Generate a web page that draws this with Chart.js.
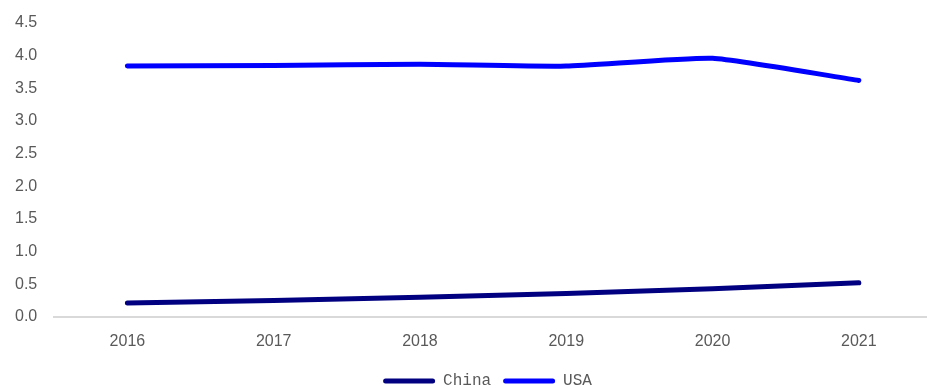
<!DOCTYPE html>
<html lang="en">
<head>
    <meta charset="UTF-8">
    <title>China vs USA</title>
    <script src="https://cdn.jsdelivr.net/npm/chart.js"></script>
    <style>
        body {
            margin: 0;
            padding: 0;
            background-color: #ffffff;
        }

        .chart-box {
            width: 927px;
            height: 388px;
        }
    </style>
</head>
<body>
<div class="chart-box">
    <canvas id="lineChart"></canvas>
</div>

<script>
    // Data
    const years = ['2016', '2017', '2018', '2019', '2020', '2021'];
    const chinaValues = [0.21, 0.25, 0.30, 0.355, 0.43, 0.52];
    const usaValues = [3.84, 3.85, 3.87, 3.84, 3.96, 3.62];

    const tickColor = '#595959';
    const tickFont = { family: '"Liberation Sans", Arial, sans-serif', size: 16 };

    // x axis runs a little past the right edge, legend shifted a bit right
    const nudgeLayout = {
        id: 'nudgeLayout',
        afterLayout(chart) {
            const x = chart.scales.x;
            x.right += 5;
            x.width += 5;
            x.configure();

            const lg = chart.legend;
            lg.top += 3;
            lg.bottom = chart.height + 10;
            lg.left += 21;
            lg.right += 21;
        }
    };

    const ctx = document.getElementById('lineChart').getContext('2d');
    new Chart(ctx, {
        type: 'line',
        data: {
            labels: years,
            datasets: [
                {
                    label: 'China',
                    data: chinaValues,
                    borderColor: '#000080',
                    backgroundColor: '#000080',
                    borderWidth: 5,
                    borderCapStyle: 'round',
                    pointRadius: 0,
                    tension: 0
                },
                {
                    label: 'USA',
                    data: usaValues,
                    borderColor: '#0000ff',
                    backgroundColor: '#0000ff',
                    borderWidth: 5,
                    borderCapStyle: 'round',
                    pointRadius: 0,
                    tension: 0.15
                }
            ]
        },
        plugins: [nudgeLayout],
        options: {
            responsive: true,
            maintainAspectRatio: false,
            animation: false,
            layout: {
                padding: { top: 23, left: 6, right: 0, bottom: 0 }
            },
            plugins: {
                legend: {
                    position: 'bottom',
                    maxHeight: 30,
                    labels: {
                        boxWidth: 52,
                        boxHeight: 5,
                        useBorderRadius: true,
                        borderRadius: 2.5,
                        padding: 12,
                        color: '#595959',
                        font: { family: '"Liberation Mono", monospace', size: 16 },
                        generateLabels(chart) {
                            const items = Chart.defaults.plugins.legend.labels.generateLabels(chart);
                            items.forEach(item => { item.lineWidth = 0; });
                            return items;
                        }
                    }
                },
                tooltip: { enabled: false }
            },
            scales: {
                x: {
                    offset: true,
                    grid: { display: false },
                    border: { display: true, color: '#d9d9d9', width: 2 },
                    ticks: {
                        color: tickColor,
                        padding: 7,
                        font: tickFont
                    }
                },
                y: {
                    min: 0,
                    max: 4.5,
                    grid: { display: false },
                    border: { display: false },
                    ticks: {
                        stepSize: 0.5,
                        color: tickColor,
                        padding: 9,
                        font: tickFont,
                        callback: value => value.toFixed(1)
                    }
                }
            }
        }
    });
</script>
</body>
</html>
